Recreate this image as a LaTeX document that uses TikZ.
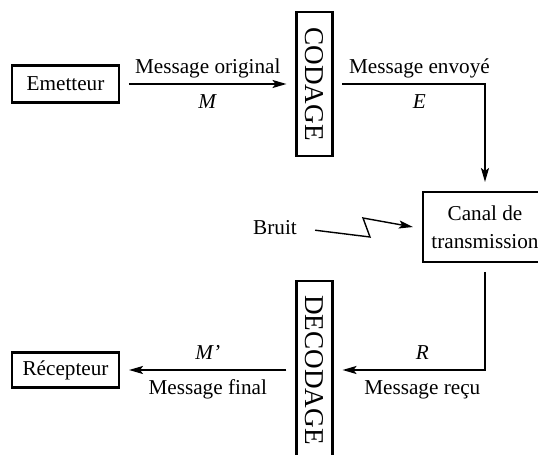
\documentclass[tikz,border=0pt]{standalone}
\usepackage{fontspec}
\setmainfont{Liberation Serif}
\usetikzlibrary{arrows.meta}

\begin{document}
\begin{tikzpicture}[x=0.5pt, y=-0.5pt,
  font=\fontsize{10.6}{13}\selectfont,
  box/.style={draw, line width=1.2pt, align=center, outer sep=5pt, inner sep=0pt},
  codebox/.style={draw, line width=1.2pt, rotate=-90, outer sep=5pt, inner sep=0pt,
                  minimum height=18pt, font=\fontsize{13.6}{16}\selectfont},
  lbl/.style={inner sep=2pt, text height=1em, text depth=0.25em},
  arr/.style={-{Stealth[length=7pt, width=4pt, inset=1.5pt]}, line width=1pt},
  zz/.style={-{Stealth[length=7pt, width=4pt, inset=1.5pt]}, line width=0.7pt, shorten <=9pt}]
\useasboundingbox (0,0) rectangle (538,455);
\node[box, minimum width=53.5pt, minimum height=18.5pt] (em) at (65.5,84) {Emetteur};
\node[codebox, minimum width=72pt] (cod) at (314.5,84) {CODAGE};
\node[box, minimum width=62pt, minimum height=35pt, font=\fontsize{10.6}{14}\selectfont] (can) at (485,227) {Canal de\\transmission};
\node[inner sep=0pt] (br) at (275,228) {Bruit};
\node[codebox, minimum width=89pt] (dec) at (314.5,370) {DECODAGE};
\node[box, minimum width=53.5pt, minimum height=17.5pt] (rec) at (65.5,370) {Récepteur};
\draw[arr] (em) -- node[lbl, above] {Message original} node[lbl, below] {\textit{M}} (cod);
\draw[arr] (cod) -| node[lbl, above, pos=0.27] {Message envoyé} node[lbl, below, pos=0.27] {\textit{E}} (can);
\draw[zz] (br.east) -- (370,237) -- (363,218) -- (can.west);
\draw[arr] (can) |- node[lbl, above, pos=0.72] {\textit{R}} node[lbl, below, pos=0.72] {Message reçu} (dec);
\draw[arr] (dec) -- node[lbl, above] {\textit{M'}} node[lbl, below] {Message final} (rec);
\end{tikzpicture}
\end{document}
